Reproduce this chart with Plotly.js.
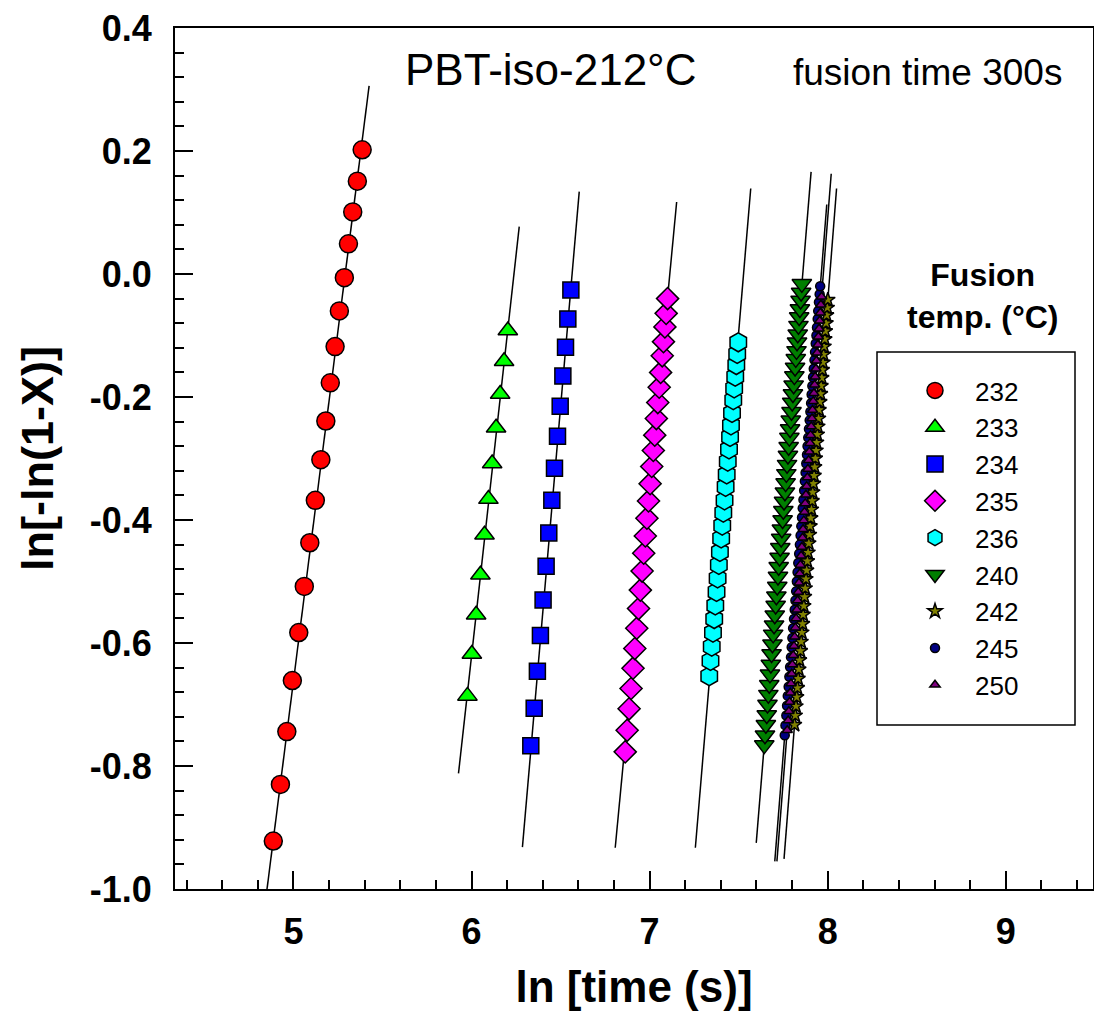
<!DOCTYPE html>
<html>
<head>
<meta charset="utf-8">
<script src="https://cdn.plot.ly/plotly-3.0.1.min.js"></script>
<style>html,body{margin:0;padding:0;background:#fff;}#chart{width:1094px;height:1020px;}</style>
</head>
<body>
<div id="chart"></div>
<script>
// ---- data ----
const seriesNames = ['232', '233', '234', '235', '236', '240', '242', '245', '250'];

const x232 = [4.887, 4.927, 4.963, 4.994, 5.030, 5.061, 5.092, 5.123, 5.154, 5.182, 5.207, 5.234, 5.258, 5.286, 5.309, 5.333, 5.359, 5.386];
const y232 = [-0.922, -0.830, -0.744, -0.661, -0.583, -0.508, -0.437, -0.368, -0.302, -0.239, -0.177, -0.118, -0.060, -0.006, 0.049, 0.101, 0.151, 0.202];

const x233 = [5.977, 6.002, 6.026, 6.050, 6.073, 6.095, 6.116, 6.138, 6.161, 6.183, 6.204];
const y233 = [-0.686, -0.618, -0.554, -0.489, -0.424, -0.366, -0.308, -0.250, -0.195, -0.142, -0.092];

const x234 = [6.333, 6.352, 6.370, 6.387, 6.402, 6.419, 6.434, 6.451, 6.466, 6.483, 6.498, 6.513, 6.528, 6.541, 6.558];
const y234 = [-0.767, -0.706, -0.646, -0.588, -0.530, -0.475, -0.421, -0.368, -0.316, -0.264, -0.215, -0.166, -0.119, -0.073, -0.026];

const x235 = [6.863, 6.874, 6.885, 6.896, 6.907, 6.917, 6.928, 6.938, 6.948, 6.958, 6.967, 6.976, 6.985, 6.994, 7.003, 7.012, 7.021, 7.029, 7.038, 7.046, 7.054, 7.062, 7.071, 7.078, 7.086, 7.093, 7.101];
const y235 = [-0.777, -0.742, -0.707, -0.674, -0.641, -0.609, -0.576, -0.544, -0.514, -0.483, -0.454, -0.426, -0.397, -0.369, -0.341, -0.313, -0.287, -0.262, -0.235, -0.209, -0.184, -0.160, -0.133, -0.110, -0.086, -0.064, -0.040];

const x236 = [7.335, 7.342, 7.349, 7.356, 7.363, 7.369, 7.376, 7.382, 7.389, 7.395, 7.402, 7.408, 7.414, 7.421, 7.427, 7.433, 7.439, 7.446, 7.452, 7.457, 7.463, 7.470, 7.475, 7.481, 7.487, 7.492, 7.498];
const y236 = [-0.654, -0.629, -0.606, -0.583, -0.561, -0.539, -0.517, -0.495, -0.473, -0.452, -0.430, -0.409, -0.388, -0.368, -0.346, -0.326, -0.305, -0.285, -0.265, -0.246, -0.226, -0.205, -0.186, -0.167, -0.148, -0.130, -0.111];

const x240 = [7.644, 7.648, 7.653, 7.658, 7.662, 7.667, 7.672, 7.676, 7.681, 7.685, 7.690, 7.694, 7.699, 7.703, 7.708, 7.712, 7.717, 7.721, 7.725, 7.730, 7.734, 7.739, 7.743, 7.747, 7.751, 7.755, 7.760, 7.764, 7.768, 7.772, 7.777, 7.781, 7.785, 7.789, 7.793, 7.797, 7.801, 7.805, 7.809, 7.813, 7.817, 7.821, 7.825, 7.828, 7.832, 7.836, 7.840, 7.844, 7.848, 7.851, 7.855];
const y240 = [-0.766, -0.750, -0.733, -0.717, -0.700, -0.684, -0.668, -0.651, -0.635, -0.618, -0.602, -0.586, -0.571, -0.555, -0.539, -0.524, -0.508, -0.492, -0.476, -0.461, -0.445, -0.430, -0.415, -0.400, -0.385, -0.370, -0.355, -0.340, -0.325, -0.310, -0.295, -0.281, -0.266, -0.252, -0.238, -0.224, -0.209, -0.195, -0.181, -0.166, -0.152, -0.138, -0.125, -0.111, -0.098, -0.084, -0.070, -0.057, -0.043, -0.030, -0.016];

const x242 = [7.814, 7.818, 7.822, 7.826, 7.830, 7.834, 7.838, 7.842, 7.847, 7.851, 7.855, 7.859, 7.862, 7.866, 7.870, 7.874, 7.878, 7.882, 7.886, 7.890, 7.894, 7.898, 7.901, 7.905, 7.909, 7.913, 7.916, 7.920, 7.924, 7.927, 7.931, 7.935, 7.938, 7.942, 7.945, 7.949, 7.952, 7.956, 7.960, 7.963, 7.967, 7.970, 7.974, 7.977, 7.980, 7.984, 7.987, 7.991, 7.994, 7.998, 8.001];
const y242 = [-0.733, -0.718, -0.703, -0.688, -0.673, -0.658, -0.643, -0.628, -0.613, -0.598, -0.583, -0.569, -0.554, -0.540, -0.525, -0.511, -0.496, -0.482, -0.467, -0.453, -0.438, -0.424, -0.410, -0.397, -0.383, -0.369, -0.355, -0.341, -0.328, -0.314, -0.300, -0.287, -0.274, -0.261, -0.248, -0.235, -0.221, -0.208, -0.195, -0.182, -0.169, -0.156, -0.144, -0.131, -0.118, -0.106, -0.093, -0.080, -0.067, -0.055, -0.042];

const x245 = [7.759, 7.763, 7.768, 7.772, 7.776, 7.781, 7.785, 7.789, 7.794, 7.798, 7.802, 7.806, 7.811, 7.815, 7.819, 7.823, 7.827, 7.831, 7.835, 7.840, 7.844, 7.848, 7.852, 7.856, 7.860, 7.864, 7.868, 7.872, 7.876, 7.880, 7.884, 7.887, 7.891, 7.895, 7.899, 7.903, 7.907, 7.910, 7.914, 7.918, 7.922, 7.926, 7.929, 7.933, 7.937, 7.940, 7.944, 7.947, 7.951, 7.955, 7.958];
const y245 = [-0.750, -0.734, -0.718, -0.702, -0.686, -0.671, -0.655, -0.639, -0.623, -0.607, -0.592, -0.576, -0.561, -0.546, -0.531, -0.516, -0.500, -0.485, -0.470, -0.455, -0.440, -0.425, -0.410, -0.396, -0.381, -0.367, -0.352, -0.337, -0.323, -0.308, -0.294, -0.280, -0.266, -0.252, -0.238, -0.224, -0.210, -0.196, -0.182, -0.168, -0.154, -0.140, -0.127, -0.113, -0.100, -0.087, -0.073, -0.060, -0.046, -0.033, -0.020];

const x250 = [7.773, 7.778, 7.782, 7.786, 7.790, 7.794, 7.798, 7.802, 7.807, 7.811, 7.815, 7.819, 7.823, 7.827, 7.831, 7.835, 7.839, 7.843, 7.847, 7.851, 7.855, 7.859, 7.862, 7.866, 7.870, 7.874, 7.878, 7.882, 7.886, 7.889, 7.893, 7.897, 7.901, 7.904, 7.908, 7.912, 7.915, 7.919, 7.923, 7.927, 7.930, 7.934, 7.937, 7.941, 7.945, 7.948, 7.952, 7.955, 7.959, 7.962, 7.966];
const y250 = [-0.742, -0.726, -0.711, -0.696, -0.681, -0.666, -0.650, -0.635, -0.620, -0.605, -0.590, -0.575, -0.560, -0.546, -0.531, -0.517, -0.502, -0.487, -0.473, -0.458, -0.444, -0.429, -0.415, -0.401, -0.387, -0.373, -0.359, -0.345, -0.331, -0.317, -0.303, -0.289, -0.275, -0.262, -0.248, -0.235, -0.221, -0.207, -0.194, -0.180, -0.167, -0.154, -0.141, -0.128, -0.115, -0.102, -0.089, -0.076, -0.063, -0.050, -0.037];

// fitted lines (end points)
const fitX232 = [4.843, 5.425], fitY232 = [-1.02, 0.306];
const fitX233 = [5.927, 6.268], fitY233 = [-0.812, 0.077];
const fitX234 = [6.286, 6.605], fitY234 = [-0.932, 0.134];
const fitX235 = [6.807, 7.152], fitY235 = [-0.933, 0.117];
const fitX236 = [7.257, 7.568], fitY236 = [-0.933, 0.139];
const fitX240 = [7.599, 7.907], fitY240 = [-0.925, 0.166];
const fitX242 = [7.755, 8.050], fitY242 = [-0.951, 0.139];
const fitX245 = [7.703, 7.995], fitY245 = [-0.955, 0.113];
const fitX250 = [7.715, 8.020], fitY250 = [-0.955, 0.163];

const xTickVals = [5, 6, 7, 8, 9];
const yTickVals = [-1.0, -0.8, -0.6, -0.4, -0.2, 0.0, 0.2, 0.4];
const yTickText = ['-1.0', '-0.8', '-0.6', '-0.4', '-0.2', '0.0', '0.2', '0.4'];

// ---- styles ----
const FONT = 'Liberation Sans, Arial, Helvetica, sans-serif';
const xs = [x232, x233, x234, x235, x236, x240, x242, x245, x250];
const ys = [y232, y233, y234, y235, y236, y240, y242, y245, y250];
const fitXs = [fitX232, fitX233, fitX234, fitX235, fitX236, fitX240, fitX242, fitX245, fitX250];
const fitYs = [fitY232, fitY233, fitY234, fitY235, fitY236, fitY240, fitY242, fitY245, fitY250];
const symbols = ['circle', 'triangle-up', 'square', 'diamond', 'hexagon', 'triangle-down', 'star', 'circle', 'triangle-up'];
const colors = ['#FF0000', '#00FF00', '#0000FF', '#FF00FF', '#00FFFF', '#007F00', '#808000', '#000080', '#800080'];
const sizes = [18, 17, 16, 17, 19, 17, 11, 9, 9];

const traces = [];
fitXs.forEach((fx, i) => {
  traces.push({
    x: fx, y: fitYs[i], mode: 'lines', type: 'scatter', showlegend: false,
    line: {color: '#000', width: 1.5}, hoverinfo: 'skip'
  });
});
xs.forEach((xv, i) => {
  traces.push({
    x: xv, y: ys[i], mode: 'markers', type: 'scatter', name: seriesNames[i],
    marker: {symbol: symbols[i], color: colors[i], size: sizes[i], line: {color: '#000', width: 1.5}}
  });
});

const px2xp = p => (p - 175) / 918;
const py2yp = p => (889 - p) / 861;

const layout = {
  width: 1094, height: 1020,
  margin: {l: 175, r: 1, t: 28, b: 131},
  paper_bgcolor: '#fff', plot_bgcolor: '#fff',
  font: {family: FONT, color: '#000'},
  showlegend: true,
  legend: {
    x: px2xp(895), y: py2yp(367), xanchor: 'left', yanchor: 'top',
    bgcolor: 'rgba(0,0,0,0)', borderwidth: 0,
    font: {family: FONT, size: 26, color: '#000'},
    itemwidth: 70, tracegroupgap: 0
  },
  xaxis: {
    range: [4.335, 9.49], tickvals: xTickVals, ticks: 'inside', ticklen: 18, tickwidth: 2,
    tickcolor: '#000', showline: true, linewidth: 2, linecolor: '#000', mirror: true,
    showgrid: false, zeroline: false,
    minor: {dtick: 0.2, tick0: 0, ticks: 'inside', ticklen: 9, tickwidth: 2, tickcolor: '#000', showgrid: false},
    tickfont: {family: FONT, size: 36, weight: 700, color: '#000'},
    ticklabelstandoff: 10,
    title: {text: 'ln [time (s)]', font: {family: FONT, size: 44, weight: 700, color: '#000'}, standoff: 20}
  },
  yaxis: {
    range: [-1.0, 0.4], tickvals: yTickVals, ticktext: yTickText, ticks: 'inside', ticklen: 18, tickwidth: 2,
    tickcolor: '#000', showline: true, linewidth: 2, linecolor: '#000', mirror: true,
    showgrid: false, zeroline: false,
    minor: {dtick: 0.04, tick0: 0, ticks: 'inside', ticklen: 9, tickwidth: 2, tickcolor: '#000', showgrid: false},
    tickfont: {family: FONT, size: 36, weight: 700, color: '#000'},
    ticklabelstandoff: 14,
    title: {text: 'ln[-ln(1-X)]', font: {family: FONT, size: 45, weight: 700, color: '#000'}, standoff: 22}
  },
  shapes: [{
    type: 'rect', xref: 'paper', yref: 'paper',
    x0: px2xp(877), x1: px2xp(1075), y0: py2yp(725), y1: py2yp(352),
    line: {color: '#000', width: 1.5}, fillcolor: 'rgba(0,0,0,0)'
  }],
  annotations: [
    {text: 'PBT-iso-212°C', xref: 'paper', yref: 'paper', x: px2xp(550), y: py2yp(69),
     xanchor: 'center', yanchor: 'middle', showarrow: false, font: {family: FONT, size: 44, color: '#000'}},
    {text: 'fusion time 300s', xref: 'paper', yref: 'paper', x: px2xp(927), y: py2yp(72),
     xanchor: 'center', yanchor: 'middle', showarrow: false, font: {family: FONT, size: 37, color: '#000'}},
    {text: 'Fusion<br>temp. (°C)', xref: 'paper', yref: 'paper', x: px2xp(982), y: py2yp(296),
     xanchor: 'center', yanchor: 'middle', align: 'center', showarrow: false,
     font: {family: FONT, size: 32, weight: 700, color: '#000'}}
  ]
};

Plotly.newPlot('chart', traces, layout, {staticPlot: true, displayModeBar: false});
</script>
</body>
</html>
